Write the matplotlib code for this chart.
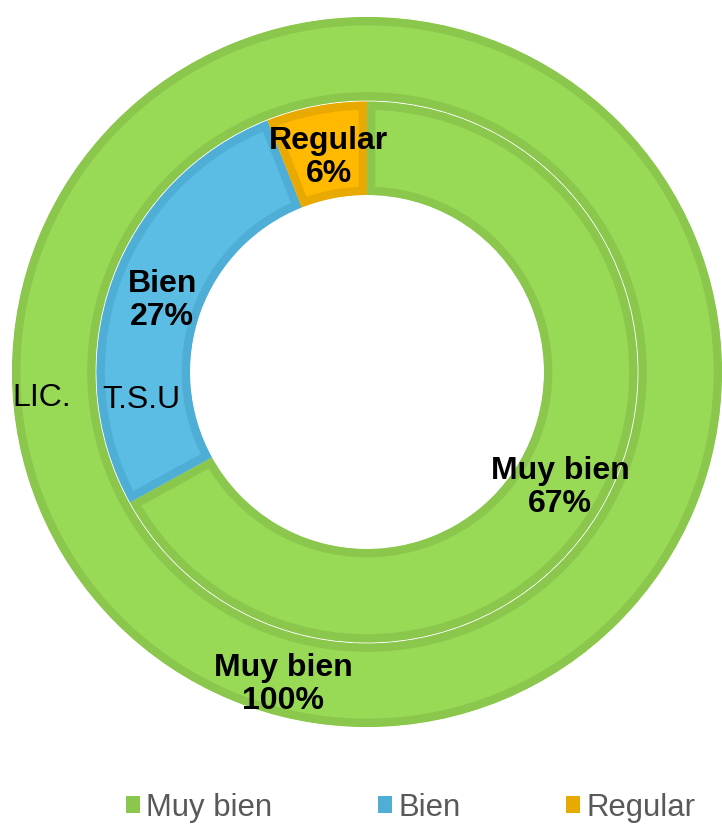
import numpy as np
import matplotlib.pyplot as plt
from matplotlib.patches import Patch

plt.rcParams['font.family'] = ['Liberation Sans', 'DejaVu Sans']

###############################################
# Data
categories = ["Muy bien", "Bien", "Regular"]
lic_values = [100, 0, 0]      # outer ring
tsu_values = [67, 27, 6]      # inner ring
series_names = ["LIC.", "T.S.U"]

fill_colors = ["#98D955", "#5BBDE3", "#FFB900"]
edge_colors = ["#8AC74C", "#4FAED5", "#E8A900"]

###############################################
# Geometry in pixels
cx, cy = 367, 453
r_out, r_mid, r_in = 355, 271, 177

fig = plt.figure(figsize=(7.22, 8.25), dpi=100)
ax = fig.add_axes([0, 0, 1, 1])


def ring(values, radius, width):
    vals = [v for v in values if v > 0]
    fc = [c for v, c in zip(values, fill_colors) if v > 0]
    ec = [c for v, c in zip(values, edge_colors) if v > 0]
    wedges, _ = ax.pie(vals, radius=radius, center=(cx, cy), startangle=90,
                       counterclock=False, colors=fc,
                       wedgeprops=dict(width=width, linewidth=12))
    for w, e in zip(wedges, ec):
        w.set_edgecolor(e)
        w.set_clip_on(True)
        w.set_clip_path(w)   # keep the border inside the wedge
    return wedges


outer = ring(lic_values, r_out, r_out - r_mid - 0.5)
inner = ring(tsu_values, r_mid - 0.5, r_mid - 0.5 - r_in)

ax.set_xlim(0, 722); ax.set_ylim(0, 825)
ax.set_aspect('equal'); ax.axis('off')

###############################################
# Data labels
lab_kw = dict(ha='center', va='center', fontsize=23, fontweight='bold',
              color='black', linespacing=1.13)
for w, name, v in zip(inner, [c for c, v in zip(categories, tsu_values) if v > 0],
                      [v for v in tsu_values if v > 0]):
    a = np.deg2rad((w.theta1 + w.theta2) / 2)
    r = 221
    ax.text(cx + r * np.cos(a) + 3, cy + r * np.sin(a) - 3, f"{name}\n{v}%", **lab_kw)

a = np.deg2rad(255)
r = 324
ax.text(cx + r * np.cos(a), cy + r * np.sin(a), f"{categories[0]}\n{lic_values[0]}%", **lab_kw)

# series names
ax.text(42, 825 - 398, series_names[0], ha='center', va='center', fontsize=23)
ax.text(141, 825 - 400, series_names[1], ha='center', va='center', fontsize=23)

###############################################
# Legend
handles = [Patch(facecolor=c, edgecolor='none') for c in edge_colors]
fig.legend(handles, categories, loc='center', bbox_to_anchor=(0.569, 0.021),
           ncol=3, frameon=False, fontsize=22.4, labelcolor='#595959',
           handlelength=0.45, handleheight=0.45, handletextpad=0.2,
           columnspacing=3.4)

fig.savefig("out.png", dpi=100)
